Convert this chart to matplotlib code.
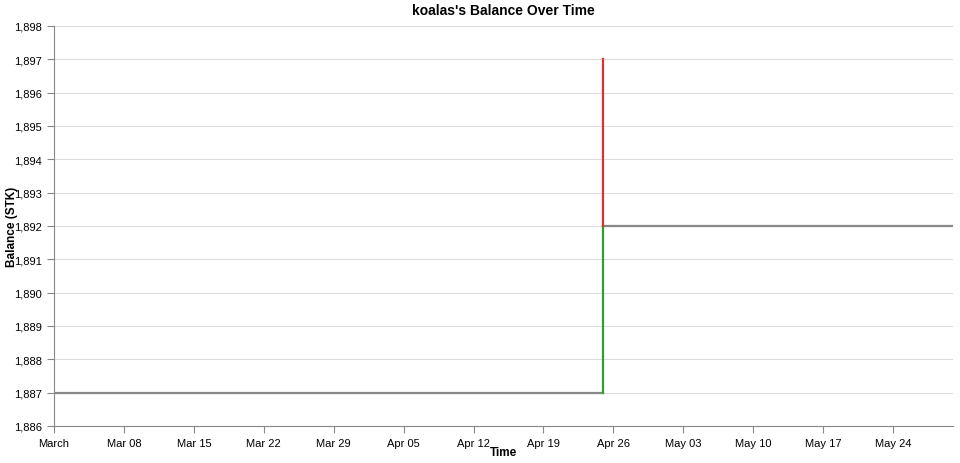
import numpy as np
import matplotlib.pyplot as plt
from matplotlib.ticker import FuncFormatter
import datetime as dt

# balance segments
flat_dates = [dt.datetime(2024, 3, 1), dt.datetime(2024, 4, 25)]
flat_vals = [1887, 1887]
after_dates = [dt.datetime(2024, 4, 25), dt.datetime(2024, 5, 30)]
after_vals = [1892, 1892]
jump_date = dt.datetime(2024, 4, 25)
up_vals = [1887, 1892]     # gain (green)
down_vals = [1897, 1892]   # loss (red)

tick_dates = [dt.datetime(2024, 3, 1)] + [dt.datetime(2024, 3, 8) + dt.timedelta(days=7 * i) for i in range(12)]

plt.rcParams['font.family'] = ['Liberation Sans', 'DejaVu Sans']
fig = plt.figure(figsize=(9.6, 4.64), dpi=100)
ax = fig.add_axes([54 / 960, 37 / 464, 899 / 960, 400 / 464])

ax.plot(flat_dates, flat_vals, color='#888888', lw=1.6)
ax.plot(after_dates, after_vals, color='#888888', lw=1.6)
ax.plot([jump_date, jump_date], up_vals, color='#2ca02c', lw=1.6)
ax.plot([jump_date, jump_date], down_vals, color='#e03030', lw=1.6)

ax.set_xlim(dt.datetime(2024, 3, 1), dt.datetime(2024, 5, 30))
ax.set_ylim(1886, 1898)
ax.set_yticks(np.arange(1886, 1899, 1))
ax.yaxis.set_major_formatter(FuncFormatter(lambda v, p: f"{int(v):,}"))
ax.set_xticks(tick_dates)
ax.set_xticklabels(['March'] + [d.strftime('%b %d') for d in tick_dates[1:]])

ax.grid(axis='y', color='#dddddd', lw=0.8)
ax.set_axisbelow(True)
for s in ['top', 'right']:
    ax.spines[s].set_visible(False)
for s in ['left', 'bottom']:
    ax.spines[s].set_color('#888888')
ax.tick_params(labelsize=8, color='#888888', length=5)

fig.text(503 / 960, 1 - 453 / 464, 'Time', fontsize=8.5, fontweight='bold', ha='center', va='center')
fig.text(12 / 960, 1 - 227 / 464, 'Balance (STK)', fontsize=8.5, fontweight='bold',
         rotation=90, ha='center', va='center')
fig.text(503 / 960, 1 - 11 / 464, "koalas's Balance Over Time", fontsize=10, fontweight='bold',
         ha='center', va='center')

fig.savefig('out.png', dpi=100)
